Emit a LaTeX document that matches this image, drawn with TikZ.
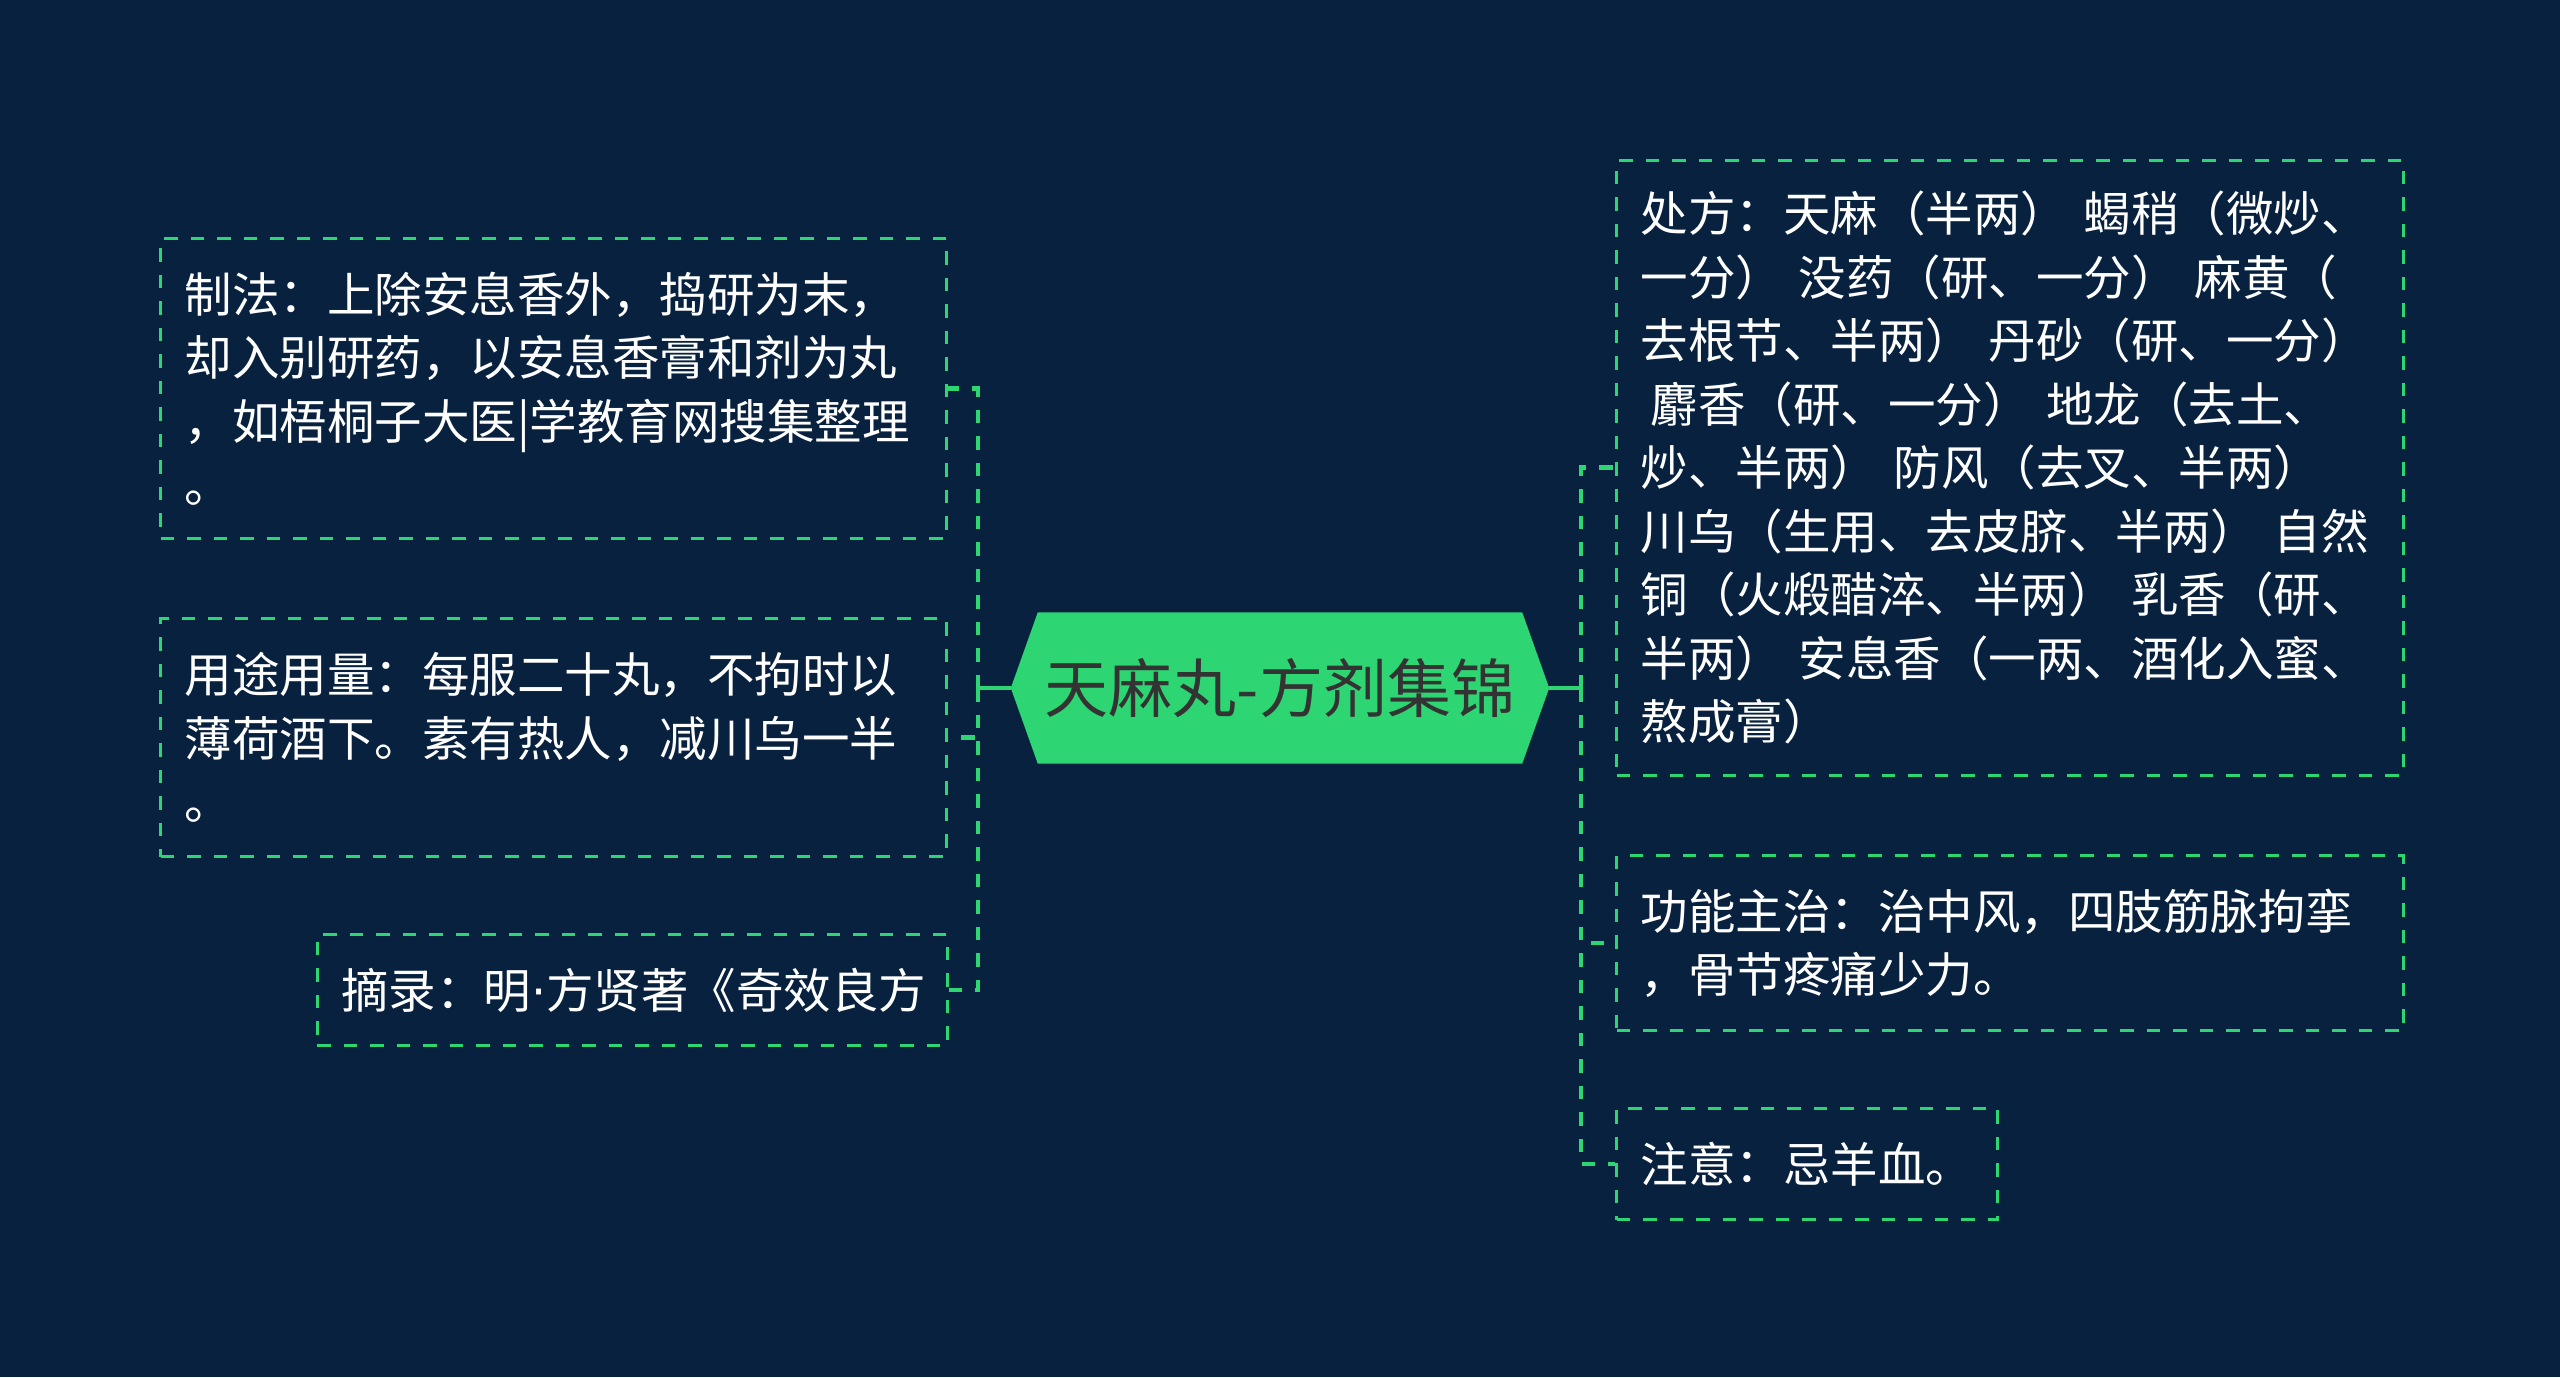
\documentclass[tikz,border=0pt]{standalone}
\usepackage{fontspec}
\setmainfont{Noto Sans CJK SC}
\newfontfamily\dotfont{DejaVu Sans}
\usetikzlibrary{backgrounds}
\definecolor{bgnavy}{HTML}{07213F}
\definecolor{lgreen}{HTML}{2ED573}
\definecolor{darktext}{HTML}{333333}
\begin{document}
\begin{tikzpicture}[x=1pt,y=-1pt,
  bx/.style={draw=lgreen, line width=3.2pt, dash pattern=on 13.5pt off 13pt,
    text=white, font=\fontsize{47.5}{63.5}\selectfont, align=left,
    inner xsep=24pt, inner ysep=0pt, anchor=north west},
  conn/.style={draw=lgreen, line width=4.5pt, dash pattern=on 13.5pt off 13pt},
  trunk/.style={draw=lgreen, line width=4.5pt},
  hexnode/.style={minimum width=538pt, minimum height=151pt, inner sep=0pt,
    text=darktext, font=\fontsize{64}{70}\selectfont}
]
\useasboundingbox (0,0) rectangle (2560,1377);

% central node
\node[hexnode] (hex) at (1280,688) {天麻丸-方剂集锦};

\begin{scope}[on background layer]
  \fill[bgnavy] (0,0) rectangle (2560,1377);
  \fill[lgreen] ([xshift=27pt]hex.north west) -- ([xshift=-27pt]hex.north east)
    -- (hex.east) -- ([xshift=-27pt]hex.south east)
    -- ([xshift=27pt]hex.south west) -- (hex.west) -- cycle;
\end{scope}

% left boxes
\node[bx, text width=738pt, minimum height=300pt] (zf) at (159,237)
  {制法：上除安息香外，捣研为末，\\却入别研药，以安息香膏和剂为丸\\，如梧桐子大医|学教育网搜集整理\\。};
\node[bx, text width=738pt, minimum height=238pt] (yt) at (159,617)
  {用途用量：每服二十丸，不拘时以\\薄荷酒下。素有热人，减川乌一半\\。};
\node[bx, text width=582pt, minimum height=111pt] (zl) at (315.5,933)
  {摘录：明{\dotfont ·}方贤著《奇效良方};

% right boxes
\node[bx, text width=739pt, minimum height=615pt] (cf) at (1615,158.5)
  {处方：天麻（半两）~蝎稍（微炒、\\一分）~没药（研、一分）~麻黄（\\去根节、半两）~丹砂（研、一分）\\\hspace*{10pt}麝香（研、一分）~地龙（去土、\\炒、半两）~防风（去叉、半两）\\川乌（生用、去皮脐、半两）~自然\\铜（火煅醋淬、半两）~乳香（研、\\半两）~安息香（一两、酒化入蜜、\\熬成膏）};
\node[bx, text width=739pt, minimum height=175pt] (gn) at (1615,854)
  {功能主治：治中风，四肢筋脉拘挛\\，骨节疼痛少力。};
\node[bx, text width=333pt, minimum height=111pt] (zy) at (1615,1107)
  {注意：忌羊血。};

% connectors
\coordinate (jl) at (978,688);
\coordinate (jr) at (1581,688);
\draw[trunk] (hex.west) -- (jl);
\draw[trunk] (hex.east) -- (jr);
\draw[conn] (jl) |- (zf.east);
\draw[conn] (jl) |- (yt.east);
\draw[conn] (jl) |- (zl.east);
\draw[conn] (jr) |- (cf.west);
\draw[conn] (jr) |- (gn.west);
\draw[conn] (jr) |- (zy.west);
\end{tikzpicture}
\end{document}
